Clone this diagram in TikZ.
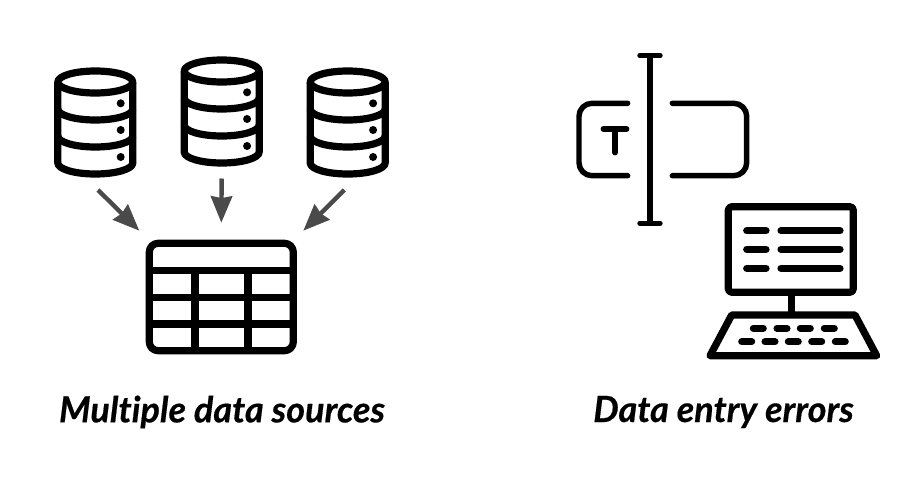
\documentclass[tikz,border=0pt]{standalone}
\usepackage{fontspec}
\setmainfont{Lato}[BoldItalicFeatures={FakeBold=0.45}, Ligatures={NoCommon}]
\usepackage{xcolor}
\usetikzlibrary{arrows.meta, positioning}
\definecolor{arrgray}{HTML}{4A4A4A}

\begin{document}
\begin{tikzpicture}[
  x=0.02cm, y=-0.02cm,
  thickline/.style={draw=black, line width=4.1pt, line join=round},
  thinline/.style={draw=black, line width=3.1pt, line cap=round, line join=round},
  keyline/.style={draw=black, line width=4pt, line cap=round},
  arr/.style={-{Stealth[length=15pt, width=12pt, inset=1pt]}, line width=2.5pt, draw=arrgray},
  caption/.style={font=\bfseries\itshape\fontsize{20.5pt}{24pt}\selectfont, inner sep=0pt},
  database/.pic={
    \draw[thickline] (0,0) ellipse [x radius=37.5, y radius=11];
    \draw[thickline] (-37.5,0) -- (-37.5,81) arc[start angle=180, end angle=0, x radius=37.5, y radius=11] -- (37.5,0);
    \draw[thickline] (-37.5,27) arc[start angle=180, end angle=0, x radius=37.5, y radius=11];
    \draw[thickline] (-37.5,54) arc[start angle=180, end angle=0, x radius=37.5, y radius=11];
    \fill (25.4,21.3) circle [radius=4];
    \fill (25.4,48) circle [radius=4];
    \fill (25.4,75) circle [radius=4];
  },
]
\useasboundingbox (0,0) rectangle (921,480);

% Databases
\pic (db1) at (95.3,82) {database};
\pic (db2) at (221.7,71) {database};
\pic (db3) at (347.7,82) {database};

% Merged table
\draw[thickline, rounded corners=5] (149.3,243.3) rectangle (293.3,350.7);
\draw[thickline] (149.3,270.7) -- (293.3,270.7);
\draw[thickline] (149.3,297.3) -- (293.3,297.3);
\draw[thickline] (149.3,324) -- (293.3,324);
\draw[thickline] (195,270.7) -- (195,350.7);
\draw[thickline] (248,270.7) -- (248,350.7);

% Arrows into the table
\coordinate (out1) at (98,190);
\coordinate (out2) at (221.7,178.5);
\coordinate (out3) at (344.3,190);
\coordinate (in1) at (139.3,230.7);
\coordinate (in2) at (221.3,222.7);
\coordinate (in3) at (303.3,230.7);
\draw[arr] (out1) -- (in1);
\draw[arr] (out2) -- (in2);
\draw[arr] (out3) -- (in3);

% Text field with cursor
\draw[thinline] (627.7,103.3) -- (592,103.3) arc[start angle=270, end angle=180, radius=13] -- (579,162.7) arc[start angle=180, end angle=90, radius=13] -- (627.7,175.7);
\draw[thinline] (672.3,103.3) -- (733.7,103.3) arc[start angle=270, end angle=360, radius=13] -- (746.7,162.7) arc[start angle=0, end angle=90, radius=13] -- (672.3,175.7);
\draw[thinline] (603.3,129) -- (626.7,129);
\draw[thinline] (615,129) -- (615,152.7);
\draw[thinline] (650,55.7) -- (650,223.3);
\draw[thinline] (640,55.7) -- (660,55.7);
\draw[thinline] (640,223.3) -- (660,223.3);

% Computer
\draw[thickline, rounded corners=2] (728.3,206.7) rectangle (853.3,292.3);
\draw[thickline] (791.7,292.3) -- (791.7,315);
\draw[thickline] (731.7,315) -- (855,315) -- (876.7,355.7) -- (710,355.7) -- cycle;
\foreach \y in {230.7,249.3,268.3} {
  \draw[keyline, line width=4.1pt] (746.7,\y) -- (766,\y);
  \draw[keyline, line width=4.1pt] (781,\y) -- (840,\y);
}
\foreach \x in {758.3,782,805.3,829.3} {
  \draw[keyline] (\x-5,328.3) -- (\x+5,328.3);
}
\foreach \x in {746.7,770,793.3,816.7,840.3} {
  \draw[keyline] (\x-5,341.7) -- (\x+5,341.7);
}

% Captions
\node[caption] (sources) at (222,412) {Multiple data sources};
\node[caption] (errors) at (723.5,412) {Data entry errors};
\end{tikzpicture}
\end{document}
